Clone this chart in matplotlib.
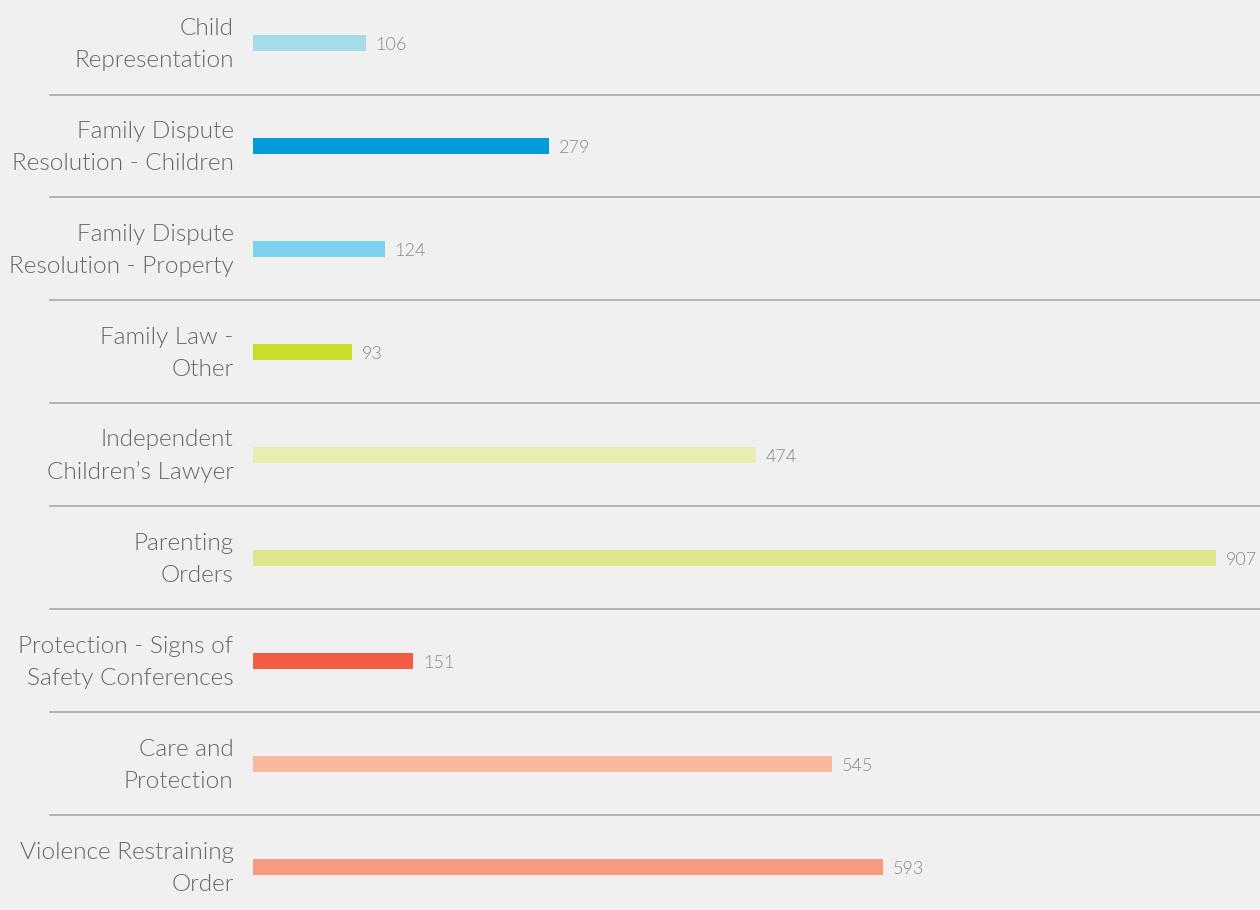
import matplotlib.pyplot as plt
from matplotlib import font_manager
import matplotlib.transforms as mtransforms

categories = [
    "Child\nRepresentation",
    "Family Dispute\nResolution - Children",
    "Family Dispute\nResolution - Property",
    "Family Law -\nOther",
    "Independent\nChildren\u2019s Lawyer",
    "Parenting\nOrders",
    "Protection - Signs of\nSafety Conferences",
    "Care and\nProtection",
    "Violence Restraining\nOrder",
]
counts = [106, 279, 124, 93, 474, 907, 151, 545, 593]
bar_colors = ["#a4dcea", "#009cd9", "#7dd0ee", "#c8dd2c", "#e8eeb0",
              "#dfe58a", "#f55a42", "#fab8a0", "#f79a7e"]

bg = "#f0f0f0"


def pick_font(size):
    # prefer a light-weight Lato face, else regular
    faces = [f for f in font_manager.fontManager.ttflist if f.name == "Lato"]
    light = [f for f in faces if f.weight in (300, "light") and f.style == "normal"]
    if light:
        return font_manager.FontProperties(fname=light[0].fname, size=size)
    return font_manager.FontProperties(family=["Lato", "DejaVu Sans"], size=size)


label_font = pick_font(17.6)
value_font = pick_font(13)

W, H = 1260, 910
fig = plt.figure(figsize=(W / 100, H / 100), dpi=100, facecolor=bg)
# axes from the bar baseline to the right edge, full height
ax = fig.add_axes([253 / W, 0, 1 - 253 / W, 1])
ax.set_facecolor(bg)

n = len(categories)
top, step = 43, 103
ax.set_ylim((H - top) / step, -top / step)
ax.set_xlim(0, 907 * (W - 253) / (1216 - 253))

bar_h = 16 / step
ax.barh(range(n), counts, height=bar_h, color=bar_colors, linewidth=0)

for i, (lab, v) in enumerate(zip(categories, counts)):
    ax.annotate(str(v), (v, i), xytext=(7, -1.5), textcoords="offset points",
                ha="left", va="center", fontproperties=value_font,
                color="#8a8a8a")
    ax.annotate(lab, (0, i), xytext=(-14, -1), textcoords="offset points",
                ha="right", va="center", fontproperties=label_font,
                color="#666666", linespacing=1.62)

# separators between rows, reaching left under the labels
trans = mtransforms.blended_transform_factory(fig.transFigure, ax.transData)
for i in range(n - 1):
    ax.plot([50 / W, 1], [i + 0.5, i + 0.5], transform=trans,
            color="#a8a8a8", lw=1.2, clip_on=False)

for s in ax.spines.values():
    s.set_visible(False)
ax.set_xticks([])
ax.set_yticks([])

fig.savefig("out.png", dpi=100, facecolor=bg)
